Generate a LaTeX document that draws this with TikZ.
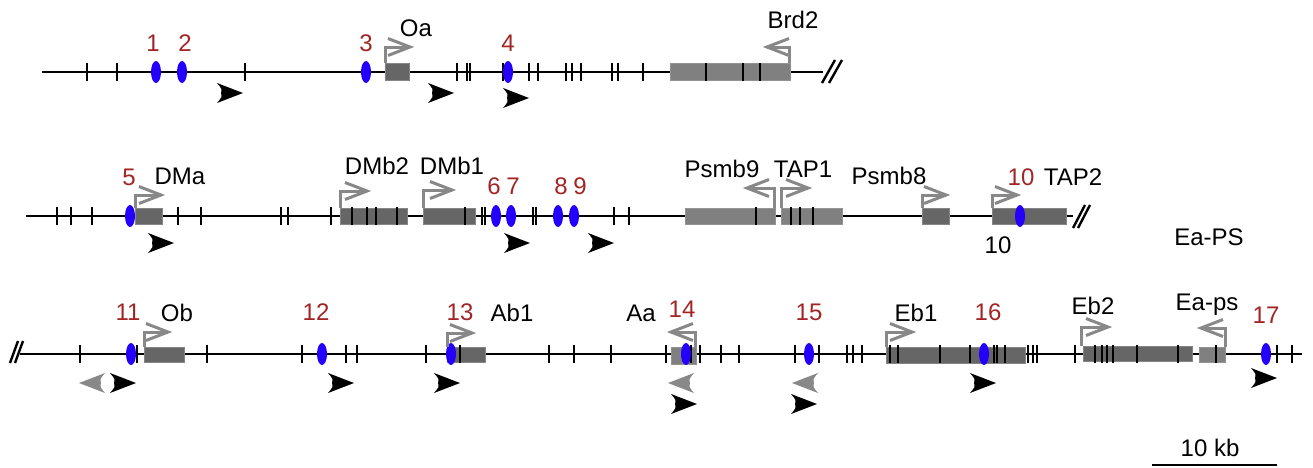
\documentclass[tikz,border=0pt]{standalone}
\usepackage{fontspec}
\setmainfont{Liberation Sans}
\definecolor{lred}{RGB}{162,36,36}
\definecolor{eblue}{RGB}{36,0,250}
\definecolor{gdark}{RGB}{102,102,102}
\definecolor{glight}{RGB}{128,128,128}
\definecolor{gprom}{RGB}{136,136,136}
\tikzset{
  chrom/.style={line width=2.7pt,black},
  tickmark/.style={line width=2.8pt,black},
  brk/.style={line width=2.4pt,black},
  genedark/.style={fill=gdark,draw=gdark!80!white,line width=0.8pt},
  genelight/.style={fill=glight,draw=glight!85!white,line width=0.8pt},
  promline/.style={line width=3pt,gprom,line join=miter},
  site/.style={fill=eblue},
  lbl/.style={inner sep=0pt,text height=17pt,text depth=0pt,font=\fontsize{24}{27}\selectfont},
  num/.style={lbl,text=lred},
  gname/.style={lbl,text=black},
}
\newcommand\promR[4]{%
  \draw[promline] (#1,#2) -- (#1,#3) -- (#4,#3);
  \draw[promline] (#4-22,#3-8.5) -- (#4,#3) -- (#4-22,#3+8.5);}
\newcommand\promL[4]{%
  \draw[promline] (#1,#2) -- (#1,#3) -- (#4,#3);
  \draw[promline] (#4+22,#3-8.5) -- (#4,#3) -- (#4+22,#3+8.5);}
\newcommand\headR[3]{%
  \fill[#3] (#1+13,#2) -- (#1-13,#2-10) .. controls (#1-8,#2-4) .. (#1-9,#2) .. controls (#1-8,#2+4) .. (#1-13,#2+10) -- cycle;}
\newcommand\headL[3]{%
  \fill[#3] (#1-13,#2) -- (#1+13,#2-10) .. controls (#1+8,#2-4) .. (#1+9,#2) .. controls (#1+8,#2+4) .. (#1+13,#2+10) -- cycle;}
\begin{document}
\begin{tikzpicture}[x=1pt,y=-1pt]
\useasboundingbox (0,0) rectangle (1313,467);
% ---------- Row 1 ----------
\draw[chrom] (42,72) -- (823,72);
\draw[brk] (822,83) -- (835,60);
\draw[brk] (829,83) -- (842,60);
\fill[genedark] (385,63) rectangle (409,80);
\fill[genelight] (670,63) rectangle (790,80);
\foreach \t in {87,117,245,457,467,470,503,529,538,566,572,581,612,618,643,706,743,760}
  \draw[tickmark] (\t,63) -- (\t,81);
\foreach \t in {156,182,366,508}
  \fill[site] (\t,72) ellipse [x radius=5, y radius=11];
\promR{385}{63}{47}{410}
\promL{789}{63}{47}{767}
\headR{230}{93}{black}
\headR{441}{93}{black}
\headR{516}{98}{black}
\node[num] (n1) at (153,43) {1};
\node[num] (n2) at (185,43) {2};
\node[num] (n3) at (366,43) {3};
\node[num] (n4) at (508,43) {4};
\node[gname] (gOa) at (416,28) {Oa};
\node[gname] (gBrd2) at (793,20) {Brd2};
% ---------- Row 2 ----------
\draw[chrom] (26,216) -- (1073,216);
\draw[brk] (1073,228) -- (1085,205);
\draw[brk] (1078,228) -- (1090,205);
\fill[genedark] (135,208) rectangle (162,224);
\fill[genedark] (340,208) rectangle (407,224);
\fill[genedark] (423,208) rectangle (475,224);
\fill[genelight] (685,208) rectangle (775,224);
\fill[genelight] (781,208) rectangle (842,224);
\fill[genedark] (922,208) rectangle (949,224);
\fill[genedark] (992,208) rectangle (1066,224);
\foreach \t in {57,71,92,178,201,281,288,331,352,367,376,397,465,482,485,533,536,614,629,756,791,800,813}
  \draw[tickmark] (\t,207) -- (\t,225);
\foreach \t in {130,496,511,558,574,1020}
  \fill[site] (\t,216) ellipse [x radius=5, y radius=11];
\promR{135}{208}{195}{161}
\promR{340}{208}{191}{367}
\promR{423}{208}{190}{452}
\promL{774}{208}{188}{747}
\promR{781}{208}{188}{808}
\promR{922}{208}{195}{946}
\promR{992}{208}{195}{1017}
\headR{161}{243}{black}
\headR{517}{243}{black}
\headR{601}{243}{black}
\node[num] (n5) at (129,177) {5};
\node[num] (n6) at (494,186) {6};
\node[num] (n7) at (513,186) {7};
\node[num] (n8) at (561,186) {8};
\node[num] (n9) at (580,186) {9};
\node[num] (n10) at (1021,177) {10};
\node[gname] (gDMa) at (180,176) {DMa};
\node[gname] (gDMb2) at (377,166) {DMb2};
\node[gname] (gDMb1) at (452,166) {DMb1};
\node[gname] (gPsmb9) at (722,169) {Psmb9};
\node[gname] (gTAP1) at (803,169) {TAP1};
\node[gname] (gPsmb8) at (889,176) {Psmb8};
\node[gname] (gTAP2) at (1073,177) {TAP2};
\node[gname] (b10) at (998,245) {10};
\node[gname] (gEaPS) at (1209,237) {Ea-PS};
% ---------- Row 3 ----------
\draw[chrom] (20,354) -- (1302,354);
\draw[brk] (10,363) -- (18,341);
\draw[brk] (15,363) -- (23,341);
\fill[genedark] (144,347) rectangle (184,362);
\fill[genedark] (447,347) rectangle (485,362);
\fill[genelight] (671,347) rectangle (696,364);
\fill[genedark] (886,347) rectangle (1025,363);
\fill[genedark] (1083,346) rectangle (1192,361);
\fill[genelight] (1199,347) rectangle (1225,362);
\foreach \t in {80,137,207,302,346,357,426,460,549,574,611,666,691,700,721,739,795,819,847,853,862,890,898,940,970,994,997,1005,1028,1033,1037,1075,1095,1102,1107,1113,1137,1178,1216,1277,1292}
  \draw[tickmark] (\t,345) -- (\t,363);
\foreach \t in {131,322,451,686,809,984,1266}
  \fill[site] (\t,354) ellipse [x radius=5, y radius=11];
\promR{144}{347}{332}{168}
\promR{447}{347}{333}{472}
\promL{695}{347}{332}{671}
\promR{886}{347}{332}{912}
\promR{1081}{346}{327}{1108}
\promL{1225}{347}{328}{1201}
\headL{92}{383}{gprom}
\headR{123}{383}{black}
\headR{341}{383}{black}
\headR{447}{383}{black}
\headL{681}{383}{gprom}
\headR{684}{404}{black}
\headL{805}{383}{gprom}
\headR{804}{404}{black}
\headR{983}{383}{black}
\headR{1264}{378}{black}
\node[num] (n11) at (128,312) {11};
\node[num] (n12) at (316,312) {12};
\node[num] (n13) at (460,312) {13};
\node[num] (n14) at (682,309) {14};
\node[num] (n15) at (809,312) {15};
\node[num] (n16) at (988,312) {16};
\node[num] (n17) at (1266,315) {17};
\node[gname] (gOb) at (177,313) {Ob};
\node[gname] (gAb1) at (512,313) {Ab1};
\node[gname] (gAa) at (641,313) {Aa};
\node[gname] (gEb1) at (916,313) {Eb1};
\node[gname] (gEb2) at (1093,306) {Eb2};
\node[gname] (gEaps) at (1207,302) {Ea-ps};
% ---------- scale bar ----------
\coordinate (sbL) at (1152,465);
\coordinate (sbR) at (1277,465);
\draw[line width=2pt] (sbL) -- (sbR);
\node[gname] (sb) at (1210,448) {10 kb};
\end{tikzpicture}
\end{document}
